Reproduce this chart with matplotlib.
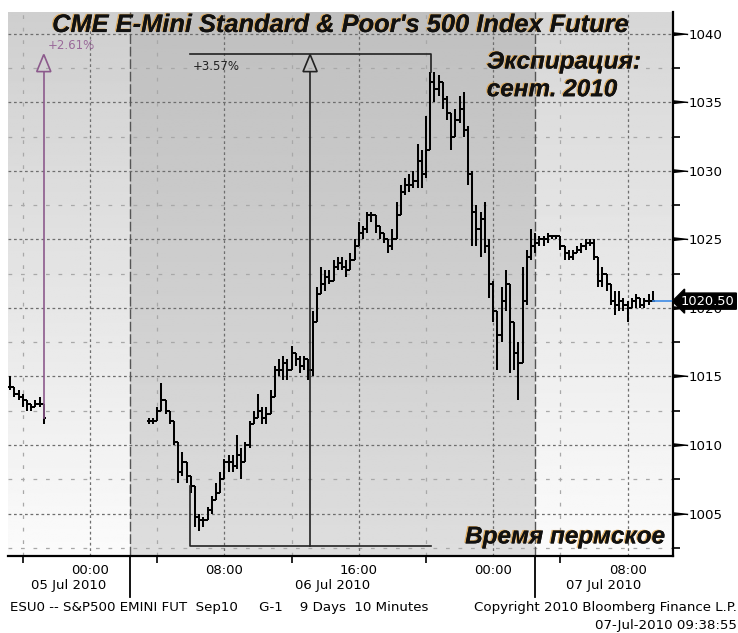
import numpy as np
import matplotlib
matplotlib.use("Agg")
import matplotlib.pyplot as plt
import matplotlib.patheffects as pe
import matplotlib.transforms as mtrans
from matplotlib.collections import LineCollection
from matplotlib.patches import Polygon

# ---- data: ESU0 10-min chart, resampled to 15-min bars (hours from 00:00 05 Jul)
bar_step = 0.25
seg1_start = -4.75
seg1_high = [1015.0, 1014.0, 1014.0, 1013.75, 1013.25, 1013.0, 1013.25, 1013.5, 1012.75]
seg1_low = [1014.0, 1013.5, 1013.25, 1012.75, 1012.5, 1012.5, 1012.75, 1012.75, 1011.5]
seg1_close = [1014.25, 1013.75, 1013.5, 1013.25, 1013.0, 1012.75, 1013.0, 1013.0, 1012.0]

seg2_start = 3.5
seg2_close = [
    1011.75, 1011.75, 1012.5, 1013.25, 1012.5, 1011.75, 1010.25, 1008.0, 1008.75, 1007.75,
    1007.0, 1004.75, 1004.5, 1004.5, 1005.25, 1006.0, 1006.5, 1007.5, 1008.75, 1008.75,
    1008.5, 1009.25, 1008.75, 1010.0, 1011.5, 1012.0, 1012.5, 1012.0, 1012.25, 1013.5,
    1015.5, 1015.5, 1016.0, 1015.5, 1016.75, 1016.25, 1015.75, 1016.25, 1015.5, 1019.0,
    1021.0, 1021.75, 1022.25, 1022.0, 1023.0, 1023.25, 1023.0, 1022.75, 1023.5, 1024.5,
    1025.5, 1025.75, 1026.75, 1026.75, 1026.0, 1025.5, 1025.0, 1024.5, 1025.0, 1026.75,
    1028.5, 1029.0, 1029.0, 1029.25, 1030.75, 1029.75, 1031.5, 1036.5, 1036.0, 1036.5,
    1035.25, 1034.25, 1032.5, 1033.75, 1034.5, 1033.0, 1029.75, 1027.0, 1025.75, 1026.5,
    1024.5, 1021.75, 1019.75, 1018.0, 1020.5, 1021.75, 1019.0, 1016.75, 1016.0, 1020.5,
    1023.75, 1024.5, 1024.75, 1025.0, 1025.0, 1025.25, 1025.25, 1025.25, 1024.5, 1024.0,
    1023.75, 1024.0, 1024.25, 1024.5, 1024.75, 1024.75, 1023.75, 1022.0, 1022.5, 1021.75,
    1020.5, 1020.25, 1020.5, 1020.25, 1020.0, 1020.5, 1020.75, 1020.25, 1020.5, 1020.5,
    1020.5]
seg2_high = [
    1012.0, 1012.0, 1012.75, 1014.5, 1013.0, 1012.5, 1011.5, 1010.0, 1009.5, 1008.5,
    1007.5, 1005.5, 1005.0, 1004.75, 1005.5, 1006.25, 1007.25, 1008.0, 1009.0, 1009.25,
    1009.25, 1010.75, 1009.75, 1010.25, 1011.75, 1012.5, 1013.75, 1012.75, 1012.75, 1014.0,
    1015.75, 1016.25, 1016.5, 1016.25, 1017.25, 1016.75, 1016.5, 1016.5, 1016.25, 1019.75,
    1021.5, 1023.0, 1022.75, 1022.75, 1023.5, 1023.75, 1023.75, 1023.5, 1024.0, 1025.0,
    1026.25, 1026.0, 1027.0, 1027.0, 1026.75, 1026.0, 1025.5, 1025.0, 1025.75, 1027.75,
    1029.0, 1029.5, 1029.75, 1030.0, 1032.0, 1031.5, 1034.0, 1037.25, 1037.25, 1037.0,
    1036.0, 1035.5, 1034.25, 1034.5, 1035.5, 1035.75, 1033.25, 1030.0, 1027.5, 1027.0,
    1027.75, 1025.0, 1022.0, 1019.5, 1021.5, 1022.75, 1021.25, 1018.75, 1017.5, 1023.0,
    1024.25, 1025.75, 1025.5, 1025.25, 1025.25, 1025.5, 1025.25, 1025.25, 1025.25, 1024.25,
    1024.25, 1024.25, 1024.5, 1024.75, 1025.0, 1025.0, 1025.0, 1023.5, 1023.0, 1022.25,
    1021.75, 1021.25, 1021.25, 1020.75, 1020.5, 1020.75, 1021.0, 1020.75, 1020.75, 1021.0,
    1021.25]
seg2_low = [
    1011.5, 1011.5, 1012.0, 1012.75, 1012.25, 1011.5, 1010.0, 1007.25, 1007.75, 1007.25,
    1006.5, 1004.0, 1003.75, 1004.0, 1004.5, 1005.0, 1006.0, 1006.5, 1007.75, 1008.0,
    1008.0, 1008.25, 1007.5, 1008.75, 1009.75, 1011.5, 1012.0, 1011.5, 1011.5, 1012.5,
    1013.5, 1015.0, 1014.75, 1014.75, 1015.75, 1015.75, 1015.25, 1015.5, 1014.75, 1015.0,
    1019.5, 1021.0, 1021.25, 1021.75, 1022.0, 1022.75, 1022.75, 1022.25, 1022.75, 1023.5,
    1024.5, 1025.0, 1025.5, 1026.25, 1025.5, 1025.0, 1024.75, 1024.0, 1024.25, 1025.0,
    1026.75, 1028.25, 1028.5, 1028.75, 1028.75, 1028.75, 1029.5, 1031.5, 1035.0, 1035.5,
    1034.5, 1033.75, 1031.5, 1032.75, 1033.5, 1032.5, 1029.0, 1024.5, 1024.5, 1023.75,
    1024.0, 1020.75, 1019.0, 1015.5, 1017.5, 1019.75, 1015.25, 1015.5, 1013.25, 1016.75,
    1020.25, 1023.5, 1024.0, 1024.5, 1024.5, 1024.75, 1025.0, 1025.0, 1024.25, 1023.5,
    1023.5, 1023.5, 1024.0, 1024.0, 1024.25, 1024.5, 1023.5, 1021.5, 1021.5, 1021.25,
    1020.25, 1019.5, 1019.75, 1019.75, 1019.0, 1020.0, 1020.0, 1020.0, 1020.0, 1020.25,
    1020.5]

last_price = 1020.50
day_breaks = [2.38, 26.5]          # session separators
day_labels = ["05 Jul 2010", "06 Jul 2010", "07 Jul 2010"]
x_min, x_max = -4.88, 34.7
y_min, y_max = 1001.9, 1041.6
hour_ticks = [0, 8, 16, 24, 32]
hour_labels = ["00:00", "08:00", "16:00", "00:00", "08:00"]

# measurement annotations
meas1_x, meas1_from, meas1_to = -2.75, 1012.0, 1038.5   # purple +2.61%
meas2_x0, meas2_x1, meas2_xa = 5.95, 20.3, 13.1
meas2_low, meas2_high = 1002.6, 1038.5
meas2_start, meas2_end = 1007.0, 1037.25


def bar_segments(t0, high, low, close):
    segs = []
    t = t0 + bar_step * np.arange(len(close))
    w = bar_step / 2
    prev = close[0]
    for ti, h, l, c in zip(t, high, low, close):
        segs.append([(ti, min(l, prev, c)), (ti, max(h, prev, c))])
        segs.append([(ti - w, prev), (ti, prev)])
        segs.append([(ti, c), (ti + w, c)])
        prev = c
    return segs, t


fig = plt.figure(figsize=(7.38, 6.33), dpi=100)
ax = fig.add_axes([8 / 738, 1 - 556 / 633, 665 / 738, 544 / 633])

# background gradients per session
regions = [(x_min, day_breaks[0], 0.81, 0.985),
           (day_breaks[0], day_breaks[1], 0.75, 0.87),
           (day_breaks[1], x_max, 0.84, 0.985)]
for x0, x1, top, bot in regions:
    g = np.linspace(top, bot, 256).reshape(-1, 1)
    ax.imshow(g, extent=[x0, x1, y_min, y_max], origin="upper", aspect="auto",
              cmap="gray", vmin=0, vmax=1, zorder=0)

ax.set_xlim(x_min, x_max)
ax.set_ylim(y_min, y_max)

# grid
for y in np.arange(1005, 1041, 5):
    ax.axhline(y, color="#6e6e6e", lw=0.9, ls=(0, (2.2, 2.2)), zorder=1)
for y in np.arange(1002.5, 1041, 5):
    ax.axhline(y, color="#a8a8a8", lw=0.9, ls=(0, (3, 7)), zorder=1)
for x in hour_ticks:
    ax.axvline(x, color="#6e6e6e", lw=0.9, ls=(0, (2.2, 2.2)), zorder=1)
for x in [-4, 4, 12, 20, 28]:
    ax.axvline(x, color="#a8a8a8", lw=0.9, ls=(0, (3, 7)), zorder=1)
for x in day_breaks:
    ax.axvline(x, color="#555555", lw=1.0, ls=(0, (7, 2)), zorder=1)

# price bars
for t0, hi, lo, cl in [(seg1_start, seg1_high, seg1_low, seg1_close),
                       (seg2_start, seg2_high, seg2_low, seg2_close)]:
    segs, t = bar_segments(t0, hi, lo, cl)
    ax.add_collection(LineCollection(segs, colors="black", linewidths=1.45, zorder=3))
last_t = seg2_start + bar_step * (len(seg2_close) - 1)
ax.plot([last_t, x_max], [last_price, last_price], color="#3d8be6", lw=1.2, zorder=3,
        clip_on=False)

# measurement arrows
purple = "#8c5a8c"
head_w, head_h = 0.42, 1.25
ax.plot([meas1_x, meas1_x], [meas1_from, meas1_to - head_h], color=purple, lw=1.2, zorder=4)
ax.add_patch(Polygon([(meas1_x - head_w, meas1_to - head_h), (meas1_x + head_w, meas1_to - head_h),
                      (meas1_x, meas1_to)], closed=True, fill=False, ec=purple, lw=1.2, zorder=4))
ax.text(0.060, 0.939, "+2.61%", transform=ax.transAxes, color="#9a6a9a", fontsize=8.5,
        va="center", ha="left", zorder=5)

ax.plot([meas2_x0, meas2_x1, meas2_x1], [meas2_high, meas2_high, meas2_end], color="#222222",
        lw=1.2, zorder=4)
ax.plot([meas2_x0, meas2_x0, meas2_x1], [meas2_start, meas2_low, meas2_low], color="#222222",
        lw=1.2, zorder=4)
ax.plot([meas2_xa, meas2_xa], [meas2_low, meas2_high - head_h], color="#222222", lw=1.2, zorder=4)
ax.add_patch(Polygon([(meas2_xa - head_w, meas2_high - head_h), (meas2_xa + head_w, meas2_high - head_h),
                      (meas2_xa, meas2_high)], closed=True, fill=False, ec="#222222", lw=1.2, zorder=4))
ax.text(0.278, 0.9007, "+3.57%", transform=ax.transAxes, color="#222222", fontsize=8.5,
        va="center", ha="left", zorder=5)

# headline texts with a thin orange shadow
shadow = [pe.withSimplePatchShadow(offset=(-1.0, 0.5), shadow_rgbFace="#e0a040", alpha=0.8),
          pe.Normal()]
big = dict(fontfamily="Liberation Sans", fontweight="bold", fontstyle="italic",
           fontsize=17.5, color="#111111", path_effects=shadow, zorder=6)
ax.text(0.499, 0.976, "CME E-Mini Standard & Poor's 500 Index Future", transform=ax.transAxes,
        ha="center", va="center", **dict(big, fontsize=18.3))
ax.text(0.720, 0.908, "Экспирация:", transform=ax.transAxes, ha="left", va="center", **big)
ax.text(0.720, 0.857, "сент. 2010", transform=ax.transAxes, ha="left", va="center", **big)
ax.text(0.988, 0.035, "Время пермское", transform=ax.transAxes, ha="right", va="center", **big)

# axes styling
for s in ["left", "top"]:
    ax.spines[s].set_visible(False)
ax.spines["right"].set_linewidth(1.6)
ax.spines["bottom"].set_linewidth(1.6)
ax.yaxis.tick_right()
ax.set_yticks(np.arange(1005, 1041, 5))
ax.set_yticks(np.arange(1002.5, 1041, 5), minor=True)
ax.tick_params(axis="y", which="major", length=0, pad=11, labelsize=9.6)
ax.tick_params(axis="y", which="minor", length=5, width=1.2, direction="out")
ax.set_xticks(hour_ticks)
ax.set_xticklabels(hour_labels)
ax.set_xticks([-4, 4, 12, 20, 28], minor=True)
ax.tick_params(axis="x", which="major", length=0, pad=6, labelsize=9.5)
ax.tick_params(axis="x", which="minor", length=5, width=1.2, direction="out")

# wedge markers on right axis
wedge_tr = mtrans.blended_transform_factory(ax.transAxes, ax.transData) + \
    mtrans.ScaledTranslation(0.075, 0, fig.dpi_scale_trans)
ax.plot([1.0] * 8, np.arange(1005, 1041, 5), ls="none", color="black",
        marker=[(-1, -0.22), (-1, 0.22), (1, 0)], markersize=11, transform=wedge_tr,
        clip_on=False, zorder=5)

# last price box
ytr = mtrans.blended_transform_factory(ax.transAxes, ax.transData)
ax.text(1.012, last_price, f"{last_price:.2f}", transform=ytr, color="white", fontsize=9.4,
        va="center", ha="left", zorder=7,
        bbox=dict(boxstyle="larrow,pad=0.12", fc="black", ec="black"))

# session separators below axis and day labels
xtr = mtrans.blended_transform_factory(ax.transData, ax.transAxes)
for x in day_breaks:
    ax.plot([x, x], [0, -0.076], color="black", lw=1.3, transform=xtr, clip_on=False)
edges = [x_min] + day_breaks + [x_max]
for i, lab in enumerate(day_labels):
    ax.text((edges[i] + edges[i + 1]) / 2, -0.055, lab, transform=xtr, ha="center",
            va="center", fontsize=9.5)

# footer
fig.text(0.0136, 0.041, "ESU0 -- S&P500 EMINI FUT  Sep10     G-1    9 Days  10 Minutes",
         fontsize=9.6, ha="left", va="center")
fig.text(0.998, 0.041, "Copyright 2010 Bloomberg Finance L.P.", fontsize=9.6,
         ha="right", va="center")
fig.text(0.998, 0.0126, "07-Jul-2010 09:38:55", fontsize=9.6, ha="right", va="center")

fig.savefig("out.png", dpi=100, facecolor="white")
